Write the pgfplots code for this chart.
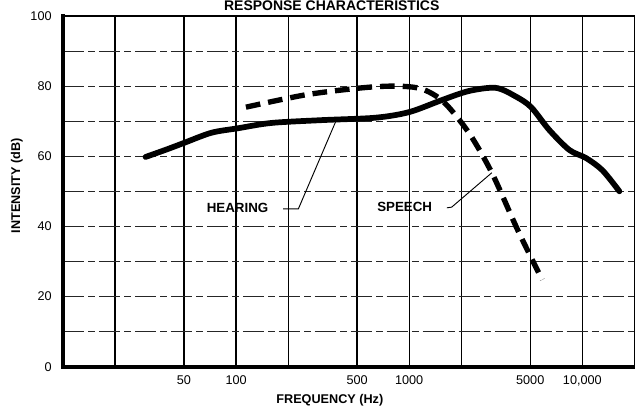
\documentclass[border=0pt]{standalone}
\usepackage{pgfplots}
\pgfplotsset{compat=1.18}
\usepackage{fontspec}
\setmainfont{Liberation Sans}
\begin{document}
\begin{tikzpicture}
\begin{axis}[
  at={(0,0)}, anchor=south west,
  width=429pt, height=263.25pt, scale only axis,
  xmode=log, xmin=10, xmax=20000, ymin=0, ymax=100,
  xtick={20,50,100,200,500,1000,2000,5000,10000},
  xticklabels={,50,100,,500,1000,,5000,{10,000}},
  xminorticks=false, yminorticks=false,
  ytick={0,10,...,100},
  yticklabels={0,,20,,40,,60,,80,,100},
  major tick length=0pt,
  grid=major,
  x grid style={black, line width=0.9pt},
  y grid style={black!85, line width=0.6pt, dash pattern=on 16pt off 3pt on 5pt off 3pt},
  axis line style={line width=1pt},
  tick label style={font=\fontsize{9.5}{11}\selectfont},
  yticklabel style={xshift=-5pt},
  xticklabel style={yshift=-3pt},
  xlabel={FREQUENCY (Hz)}, ylabel={INTENSITY (dB)},
  every axis x label/.style={at={(axis description cs:0.467,-0.097)},anchor=center,font=\bfseries\fontsize{9.5}{11}\selectfont},
  every axis y label/.style={at={(axis description cs:-0.0805,0.516)},rotate=90,anchor=center,font=\bfseries\fontsize{9.5}{11}\selectfont},
  clip=false,
]
\draw[line width=3pt, line cap=rect] (rel axis cs:0,1) -- (rel axis cs:0,0) -- (rel axis cs:1,0);
% HEARING
\addplot[black, line width=4.3pt, smooth, tension=0.5, line cap=round] coordinates {
(30,59.8) (40,62) (50,63.8) (72,66.7) (103,68) (160,69.5) (311,70.3) (640,71)
(1000,72.6) (1540,76) (2210,78.6) (3170,79.5) (4140,77) (5060,74) (6440,67.5)
(8410,61.8) (10500,59.5) (13060,56) (16370,50)};
% SPEECH
\addplot[black, line width=4pt, smooth, tension=0.5, dash pattern=on 11pt off 6pt] coordinates {
(114,74) (251,77.5) (530,79.5) (835,80) (1180,79.2) (1580,75.5) (2210,66.7)
(3000,55.3) (4140,40) (5130,30.5) (5870,24.8)};
\node[font=\bfseries\fontsize{10}{12}\selectfont] at (axis cs:102,45.3) {HEARING};
\draw[line width=0.7pt] (axis cs:187,45) -- (axis cs:229,45) -- (axis cs:380,70.4);
\node[font=\bfseries\fontsize{10}{12}\selectfont] at (axis cs:942,45.6) {SPEECH};
\draw[line width=0.7pt] (axis cs:1650,45.3) -- (axis cs:1760,45.5) -- (axis cs:3000,55.3);
\end{axis}
\node[font=\bfseries\fontsize{10.5}{12}\selectfont, anchor=north, inner sep=0pt] at (201.75pt,274.95pt) {RESPONSE CHARACTERISTICS};
\pgfresetboundingbox
\path[use as bounding box] (-47.25pt,-32.25pt) rectangle (429.4pt,275.25pt);
\end{tikzpicture}
\end{document}
